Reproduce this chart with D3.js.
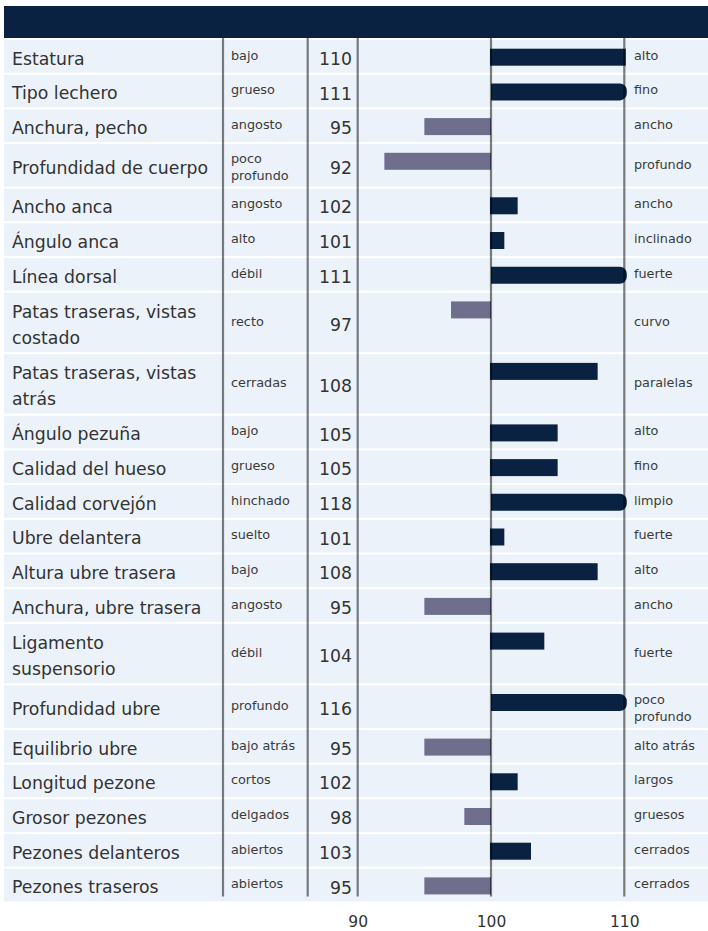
<!DOCTYPE html>
<html>
<head>
<meta charset="utf-8">
<script src="https://cdn.jsdelivr.net/npm/d3@7"></script>
<style>
  html, body { margin: 0; padding: 0; background: #fff; }
  svg { display: block; font-family: "DejaVu Sans", Verdana, sans-serif; }
</style>
</head>
<body>
<script>
// ---- data ----
const traits = ["Estatura","Tipo lechero","Anchura, pecho","Profundidad de cuerpo","Ancho anca","Ángulo anca","Línea dorsal","Patas traseras, vistas\ncostado","Patas traseras, vistas\natrás","Ángulo pezuña","Calidad del hueso","Calidad corvejón","Ubre delantera","Altura ubre trasera","Anchura, ubre trasera","Ligamento\nsuspensorio","Profundidad ubre","Equilibrio ubre","Longitud pezone","Grosor pezones","Pezones delanteros","Pezones traseros"];
const lowLabels = ["bajo","grueso","angosto","poco\nprofundo","angosto","alto","débil","recto","cerradas","bajo","grueso","hinchado","suelto","bajo","angosto","débil","profundo","bajo atrás","cortos","delgados","abiertos","abiertos"];
const highLabels = ["alto","fino","ancho","profundo","ancho","inclinado","fuerte","curvo","paralelas","alto","fino","limpio","fuerte","alto","ancho","fuerte","poco\nprofundo","alto atrás","largos","gruesos","cerrados","cerrados"];
const values = [110,111,95,92,102,101,111,97,108,105,105,118,101,108,95,104,116,95,102,98,103,95];
const tickValues = [90,100,110];
const domain = [90,110];
const baseValue = 100;

// ---- layout ----
const W = 708, H = 931;
const navy = "#0a2242", negColor = "#6f6f8d", rowBg = "#ecf2f9", textColor = "#333";
const headerTop = 6, headerBottom = 38, panelLeft = 4;
const rowsTop = 40, gap = 2;
const colLabelX = 12, colLowX = 231, colValX = 352, colHighX = 634;
const lineXs = [223, 307.7];

const svg = d3.select("body").append("svg").attr("width", W).attr("height", H);

const x = d3.scaleLinear().domain(domain).range([357.7, 624.3]);

const rows = traits.map((t, i) => {
  const labelLines = t.split("\n");
  const low = lowLabels[i].split("\n");
  const high = highLabels[i].split("\n");
  const smallN = Math.max(low.length, high.length);
  const h = labelLines.length > 1 ? 59.5 : (smallN > 1 ? 42.5 : 32.7);
  return { t: labelLines, low, high, v: values[i], h };
});
let yy = rowsTop;
rows.forEach(r => { r.y = yy; r.c = yy + r.h / 2; yy += r.h + gap; });
const rowsBottom = yy - gap;

// header
svg.append("rect").attr("x", panelLeft).attr("y", headerTop)
  .attr("width", W - panelLeft).attr("height", headerBottom - headerTop).attr("fill", navy);

// row backgrounds
svg.append("g").selectAll("rect").data(rows).join("rect")
  .attr("x", panelLeft).attr("y", d => d.y)
  .attr("width", W - panelLeft).attr("height", d => d.h)
  .attr("fill", rowBg);

// bars
const barG = svg.append("g");
const x0 = x(baseValue), xMax = x(domain[1]);
rows.forEach(r => {
  const top = r.y + 8.7, bh = 17;
  if (r.v >= baseValue) {
    if (r.v > domain[1]) {
      const x1 = xMax + 2.5, rad = 7;
      const p = d3.path();
      p.moveTo(x0, top);
      p.lineTo(x1 - rad, top);
      p.arcTo(x1, top, x1, top + rad, rad);
      p.lineTo(x1, top + bh - rad);
      p.arcTo(x1, top + bh, x1 - rad, top + bh, rad);
      p.lineTo(x0, top + bh);
      p.closePath();
      barG.append("path").attr("d", p.toString()).attr("fill", navy);
    } else {
      const xe = r.v === domain[1] ? xMax + 1.5 : x(r.v);
      barG.append("rect").attr("x", x0 - 1).attr("y", top)
        .attr("width", xe - x0 + 1).attr("height", bh).attr("fill", navy);
    }
  } else {
    barG.append("rect").attr("x", x(r.v)).attr("y", top)
      .attr("width", x0 - x(r.v)).attr("height", bh).attr("fill", negColor);
  }
});

// vertical lines (semi-transparent, on top)
const vLines = lineXs.concat(tickValues.map(v => x(v)));
svg.append("g").selectAll("line").data(vLines).join("line")
  .attr("x1", d => d).attr("x2", d => d)
  .attr("y1", headerBottom).attr("y2", rowsBottom - 5)
  .attr("stroke", "rgba(0,0,0,0.5)").attr("stroke-width", 2.2);

// texts
const tg = svg.append("g").attr("fill", textColor);
rows.forEach(r => {
  const n = r.t.length;
  r.t.forEach((s, i) => {
    tg.append("text").attr("x", colLabelX)
      .attr("y", r.c + 8.3 + (i - (n - 1) / 2) * 26)
      .attr("font-size", 17.3).text(s);
  });
  tg.append("text").attr("x", colValX).attr("y", r.c + 8.5)
    .attr("text-anchor", "end").attr("font-size", 17.3).text(r.v);
  [[r.low, colLowX], [r.high, colHighX]].forEach(([lines, cx]) => {
    const m = lines.length;
    lines.forEach((s, i) => {
      tg.append("text").attr("x", cx)
        .attr("y", r.c + 3.3 + (i - (m - 1) / 2) * 16.6 + (m - 1) * 2.7)
        .attr("font-size", 12.8).attr("fill", "#3a3a3a").text(s);
    });
  });
});

// axis
const axis = d3.axisBottom(x).tickValues(tickValues).tickSize(0).tickPadding(3);
const ag = svg.append("g").attr("transform", `translate(0,${913})`).call(axis);
ag.select(".domain").remove();
ag.selectAll("text").attr("font-size", 15.5).attr("fill", textColor)
  .attr("font-family", "DejaVu Sans, Verdana, sans-serif");
</script>
</body>
</html>
